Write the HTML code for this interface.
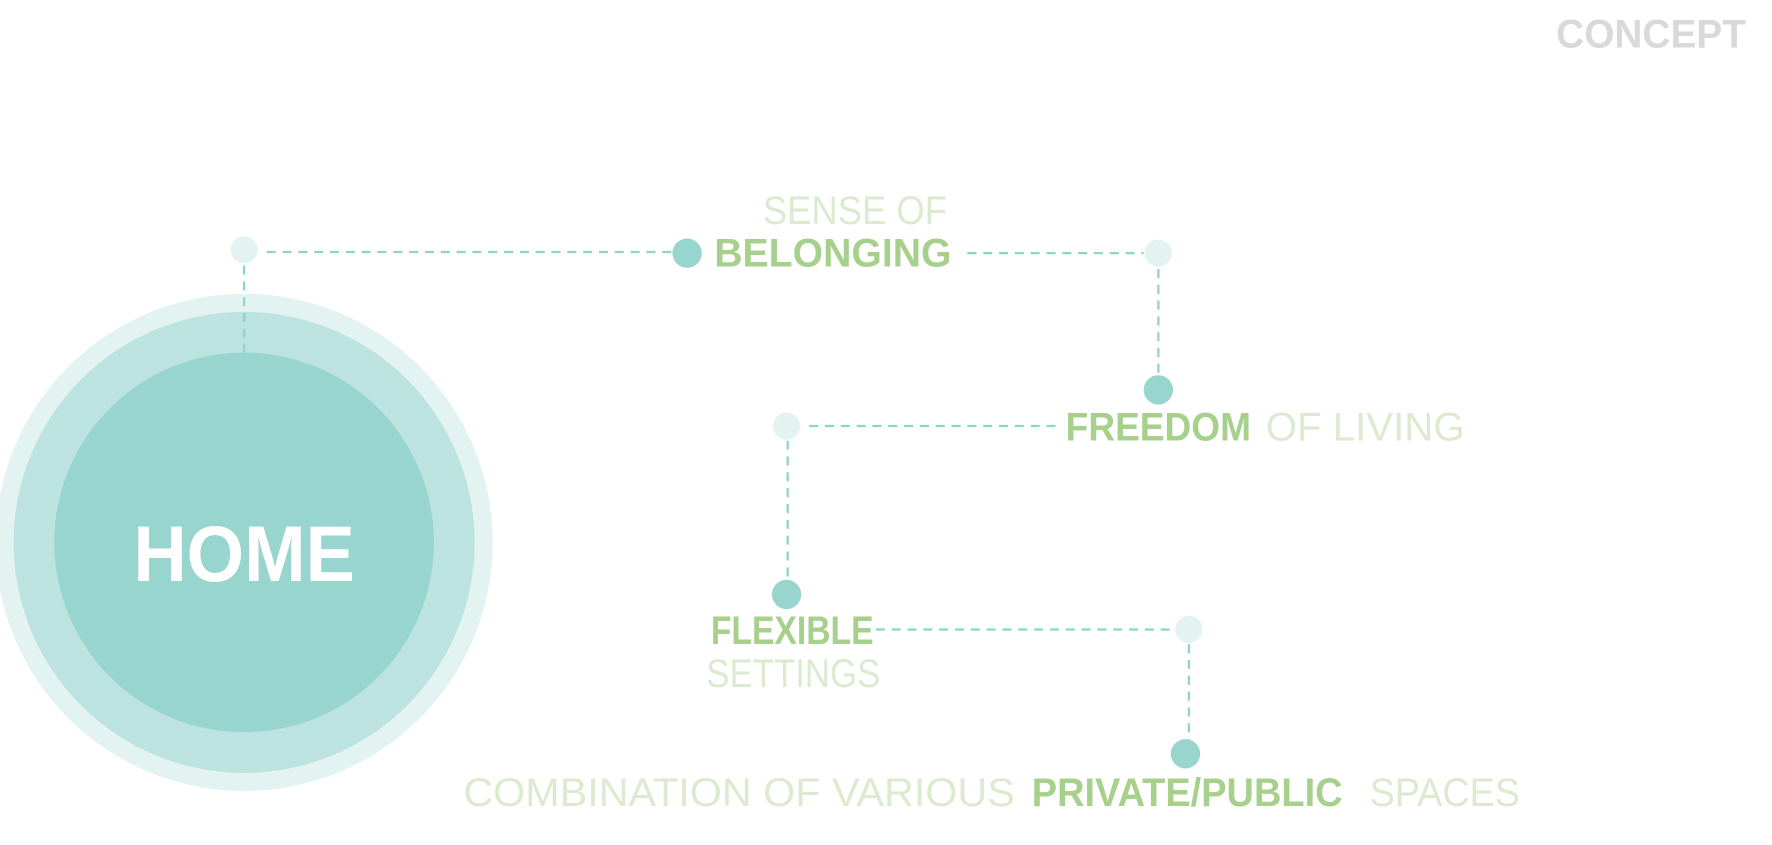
<!DOCTYPE html>
<html><head><meta charset="utf-8"><style>html,body{margin:0;padding:0;background:#fff;overflow:hidden}</style></head>
<body>
<svg width="1772" height="840" viewBox="0 0 1568 743.3" xmlns="http://www.w3.org/2000/svg" font-family="Liberation Sans, sans-serif">
<rect width="1568" height="743.3" fill="#fff"/>
<text x="1545" y="42" text-anchor="end" font-size="35" font-weight="bold" fill="#d9d9d9" textLength="168" lengthAdjust="spacingAndGlyphs">CONCEPT</text>
<circle cx="216" cy="480" r="220" fill="#e3f3f1"/>
<circle cx="216" cy="480" r="204" fill="#bce3df"/>
<circle cx="216" cy="480" r="168" fill="#99d5cf"/>
<text x="216" y="514" text-anchor="middle" font-size="70" font-weight="bold" fill="#fff" textLength="196" lengthAdjust="spacingAndGlyphs">HOME</text>
<g stroke="#8fd3c9" stroke-width="2" stroke-dasharray="8 6" fill="none">
<line x1="236" y1="223" x2="598" y2="223"/>
<line x1="216" y1="235" x2="216" y2="312"/>
<line x1="856" y1="224" x2="1012" y2="224"/>
<line x1="1025" y1="238" x2="1025" y2="332"/>
<line x1="716" y1="377" x2="935" y2="377"/>
<line x1="697" y1="390" x2="697" y2="512"/>
<line x1="775" y1="557" x2="1040" y2="557"/>
<line x1="1052" y1="570" x2="1052" y2="655"/>
</g>
<g fill="#e3f3f1">
<circle cx="216" cy="221" r="12"/><circle cx="1025" cy="224" r="12"/>
<circle cx="696" cy="377" r="12"/><circle cx="1052" cy="557" r="12"/>
</g>
<g fill="#99d5cf">
<circle cx="608" cy="224" r="13"/><circle cx="1025" cy="345" r="13"/>
<circle cx="696" cy="526" r="13"/><circle cx="1049" cy="667" r="13"/>
</g>
<g font-size="35">
<text x="675" y="198" fill="#dcebd0" textLength="163" lengthAdjust="spacingAndGlyphs">SENSE OF</text>
<text x="632" y="236" fill="#a8d08d" font-weight="bold" textLength="210" lengthAdjust="spacingAndGlyphs">BELONGING</text>
<text x="943" y="390" fill="#a8d08d" font-weight="bold" textLength="164" lengthAdjust="spacingAndGlyphs">FREEDOM</text>
<text x="1120" y="390" fill="#dcebd0" textLength="176" lengthAdjust="spacingAndGlyphs">OF LIVING</text>
<text x="629" y="570" fill="#a8d08d" font-weight="bold" textLength="144" lengthAdjust="spacingAndGlyphs">FLEXIBLE</text>
<text x="625" y="608" fill="#dcebd0" textLength="154" lengthAdjust="spacingAndGlyphs">SETTINGS</text>
<text x="410" y="713" fill="#dcebd0" textLength="488" lengthAdjust="spacingAndGlyphs">COMBINATION OF VARIOUS</text>
<text x="913" y="713" fill="#a8d08d" font-weight="bold" textLength="275" lengthAdjust="spacingAndGlyphs">PRIVATE/PUBLIC</text>
<text x="1212" y="713" fill="#dcebd0" textLength="133" lengthAdjust="spacingAndGlyphs">SPACES</text>
</g>
</svg>
</body></html>
